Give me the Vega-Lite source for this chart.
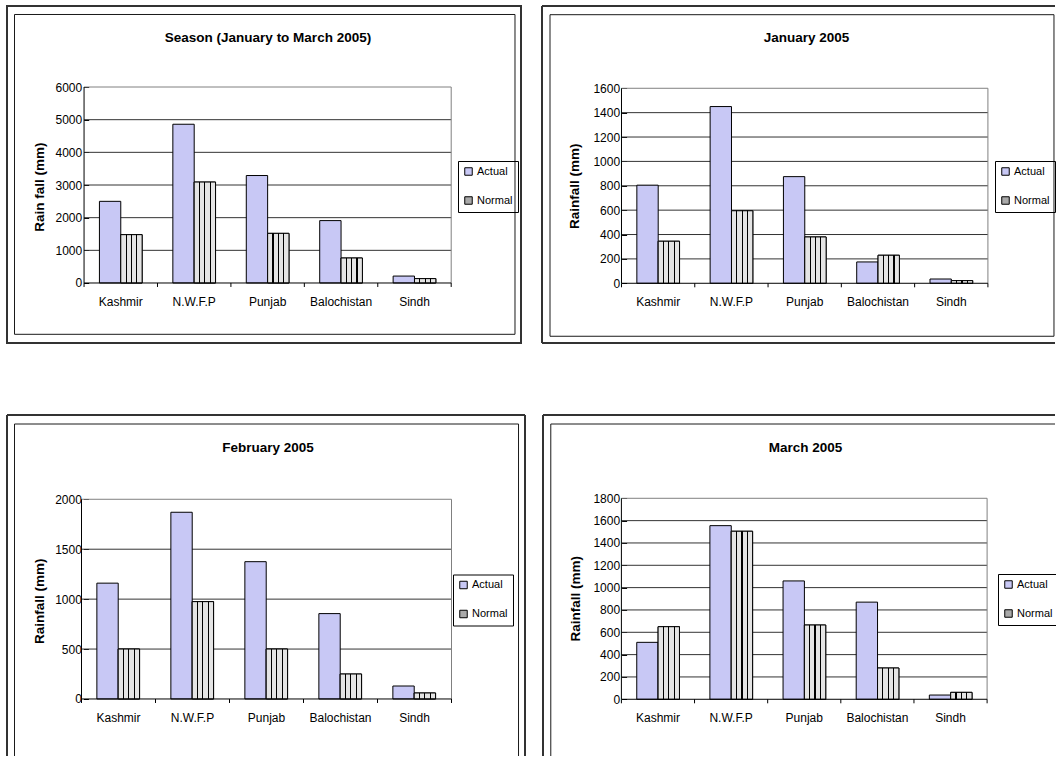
{
"$schema": "https://vega.github.io/schema/vega-lite/v6.json",
"padding": {"left": 6, "top": 5, "right": 0, "bottom": 0},
"background": "white",
"config": {
  "font": "Liberation Sans",
  "view": {"stroke": null},
  "axis": {"labelFont": "Liberation Sans", "labelFontSize": 12, "labelColor": "#000000", "tickColor": "#000000", "tickWidth": 1, "titleFont": "Liberation Sans", "titleFontSize": 13.5, "titleFontWeight": "bold", "titleColor": "#000000", "labelOverlap": false},
  "legend": {"labelFont": "Liberation Sans", "labelFontSize": 11, "labelColor": "#000000", "symbolType": "square", "symbolSize": 56, "symbolStrokeColor": "#000000", "symbolStrokeWidth": 1, "strokeColor": "#000000", "padding": 5, "rowPadding": 16, "labelOffset": 3},
  "title": {"font": "Liberation Sans", "fontSize": 13.5, "fontWeight": "bold", "color": "#000000"}
},
"spacing": 70,
"resolve": {"scale": {"color": "independent"}, "legend": {"color": "independent"}},
"vconcat": [
{
"spacing": 19,
"resolve": {"scale": {"color": "independent"}, "legend": {"color": "independent"}},
"hconcat": [
{
  "width": 514, "height": 337,
  "title": {"text": "Season (January to March 2005)", "offset": -50, "baseline": "alphabetic", "anchor": "middle", "frame": "group", "dx": 4},
  "resolve": {"scale": {"x": "independent", "y": "independent"}},
  "layer": [
    {"data": {"values": [{}]}, "layer": [
      {"mark": {"type": "rect", "filled": false, "stroke": "#333333", "strokeWidth": 2},
       "encoding": {"x": {"datum": 0, "type": "quantitative", "scale": {"domain": [0, 1], "nice": false, "zero": false}, "axis": null}, "x2": {"datum": 1},
                    "y": {"datum": 0, "type": "quantitative", "scale": {"domain": [0, 1], "nice": false, "zero": false, "reverse": true}, "axis": null}, "y2": {"datum": 1}}},
      {"mark": {"type": "rect", "filled": false, "stroke": "#1a1a1a", "strokeWidth": 1},
       "encoding": {"x": {"datum": 0.0146, "type": "quantitative", "scale": {"domain": [0, 1], "nice": false, "zero": false}, "axis": null}, "x2": {"datum": 0.9883},
                    "y": {"datum": 0.0252, "type": "quantitative", "scale": {"domain": [0, 1], "nice": false, "zero": false, "reverse": true}, "axis": null}, "y2": {"datum": 0.9742}}}
    ]},
    {"data": {"values": [
      {"region": "Kashmir", "series": "Actual", "value": 2500}, {"region": "Kashmir", "series": "Normal", "value": 1480},
      {"region": "N.W.F.P", "series": "Actual", "value": 4860}, {"region": "N.W.F.P", "series": "Normal", "value": 3090},
      {"region": "Punjab", "series": "Actual", "value": 3290}, {"region": "Punjab", "series": "Normal", "value": 1520},
      {"region": "Balochistan", "series": "Actual", "value": 1910}, {"region": "Balochistan", "series": "Normal", "value": 765},
      {"region": "Sindh", "series": "Actual", "value": 212}, {"region": "Sindh", "series": "Normal", "value": 134}
     ]},
     "layer": [
      {"data": {"values": [{"v": 1000}, {"v": 2000}, {"v": 3000}, {"v": 4000}, {"v": 5000}]},
       "mark": {"type": "rule", "color": "#333333", "strokeWidth": 1},
       "encoding": {"x": {"datum": "Kashmir", "type": "nominal", "bandPosition": 0, "scale": {"domain": ["Kashmir", "N.W.F.P", "Punjab", "Balochistan", "Sindh"], "paddingInner": 0, "paddingOuter": 1.0864, "align": 0.5247},
                          "axis": {"title": null, "orient": "bottom", "offset": -60, "domain": false, "grid": false, "ticks": false, "tickSize": 0, "labelPadding": 13, "labelAngle": 0, "bandPosition": 0.5, "labelOverlap": false}},
                    "x2": {"datum": "Sindh", "bandPosition": 1},
                    "y": {"field": "v", "type": "quantitative", "scale": {"domain": [-1837, 8480], "nice": false, "zero": false},
                          "axis": {"title": "Rain fall (mm)", "orient": "left", "offset": -81.7, "domain": false, "grid": false, "values": [0, 1000, 2000, 3000, 4000, 5000, 6000], "tickCount": 30, "format": "d", "labelOverlap": false, "tickSize": 5, "labelPadding": 2, "titleY": 180.7, "titlePadding": 9}}}},
      {"data": {"values": [{}]},
       "mark": {"type": "rule", "color": "#808080", "strokeWidth": 1},
       "encoding": {"x": {"datum": "Kashmir", "type": "nominal", "bandPosition": 0, "scale": {"domain": ["Kashmir", "N.W.F.P", "Punjab", "Balochistan", "Sindh"], "paddingInner": 0, "paddingOuter": 1.0864, "align": 0.5247}},
                    "x2": {"datum": "Sindh", "bandPosition": 1},
                    "y": {"datum": 6000, "type": "quantitative", "scale": {"domain": [-1837, 8480], "nice": false, "zero": false}}}},
      {"data": {"values": [{}]},
       "mark": {"type": "rule", "color": "#808080", "strokeWidth": 1},
       "encoding": {"x": {"datum": "Sindh", "type": "nominal", "bandPosition": 1, "scale": {"domain": ["Kashmir", "N.W.F.P", "Punjab", "Balochistan", "Sindh"], "paddingInner": 0, "paddingOuter": 1.0864, "align": 0.5247}},
                    "y": {"datum": 0, "type": "quantitative", "scale": {"domain": [-1837, 8480], "nice": false, "zero": false}}, "y2": {"datum": 6000}}},
      {"mark": {"type": "bar", "stroke": "#000000", "strokeWidth": 1},
       "encoding": {"x": {"field": "region", "type": "nominal", "scale": {"domain": ["Kashmir", "N.W.F.P", "Punjab", "Balochistan", "Sindh"], "paddingInner": 0, "paddingOuter": 1.0864, "align": 0.5247}},
                    "xOffset": {"field": "series", "type": "nominal", "scale": {"domain": ["Actual", "Normal"], "paddingInner": 0, "paddingOuter": 0.72}},
                    "y": {"field": "value", "type": "quantitative", "scale": {"domain": [-1837, 8480], "nice": false, "zero": false}},
                    "y2": {"datum": 0},
                    "color": {"field": "series", "type": "nominal", "scale": {"domain": ["Actual", "Normal"], "range": ["#c8c8f5", "#a9a9a9"]},
                              "legend": {"title": null, "orient": "none", "legendX": 451, "legendY": 155, "direction": "vertical"}}}},
      {"transform": [{"filter": "datum.series === 'Normal'"}],
       "mark": {"type": "bar", "stroke": "#000000", "strokeWidth": 1,
                "fill": {"gradient": "linear", "x1": 0, "y1": 0, "x2": 1, "y2": 0, "stops": [
                  {"offset": 0, "color": "#e4e4e4"}, {"offset": 0.222, "color": "#e4e4e4"}, {"offset": 0.222, "color": "#000000"}, {"offset": 0.278, "color": "#000000"},
                  {"offset": 0.278, "color": "#e4e4e4"}, {"offset": 0.472, "color": "#e4e4e4"}, {"offset": 0.472, "color": "#000000"}, {"offset": 0.528, "color": "#000000"},
                  {"offset": 0.528, "color": "#e4e4e4"}, {"offset": 0.722, "color": "#e4e4e4"}, {"offset": 0.722, "color": "#000000"}, {"offset": 0.778, "color": "#000000"},
                  {"offset": 0.778, "color": "#e4e4e4"}, {"offset": 1, "color": "#e4e4e4"}]}},
       "encoding": {"x": {"field": "region", "type": "nominal", "scale": {"domain": ["Kashmir", "N.W.F.P", "Punjab", "Balochistan", "Sindh"], "paddingInner": 0, "paddingOuter": 1.0864, "align": 0.5247}},
                    "xOffset": {"field": "series", "type": "nominal", "scale": {"domain": ["Actual", "Normal"], "paddingInner": 0, "paddingOuter": 0.72}},
                    "y": {"field": "value", "type": "quantitative", "scale": {"domain": [-1837, 8480], "nice": false, "zero": false}},
                    "y2": {"datum": 0}}},
      {"data": {"values": [{}]},
       "mark": {"type": "rule", "color": "#000000", "strokeWidth": 1},
       "encoding": {"x": {"datum": "Kashmir", "type": "nominal", "bandPosition": 0, "scale": {"domain": ["Kashmir", "N.W.F.P", "Punjab", "Balochistan", "Sindh"], "paddingInner": 0, "paddingOuter": 1.0864, "align": 0.5247}},
                    "y": {"datum": 0, "type": "quantitative", "scale": {"domain": [-1837, 8480], "nice": false, "zero": false}}, "y2": {"datum": 6000}}},
      {"data": {"values": [{}]},
       "mark": {"type": "rule", "color": "#000000", "strokeWidth": 1},
       "encoding": {"x": {"datum": "Kashmir", "type": "nominal", "bandPosition": 0, "scale": {"domain": ["Kashmir", "N.W.F.P", "Punjab", "Balochistan", "Sindh"], "paddingInner": 0, "paddingOuter": 1.0864, "align": 0.5247}},
                    "x2": {"datum": "Sindh", "bandPosition": 1},
                    "y": {"datum": 0, "type": "quantitative", "scale": {"domain": [-1837, 8480], "nice": false, "zero": false}}}},
      {"transform": [{"filter": "datum.series === 'Actual'"}],
       "mark": {"type": "rule", "color": "#000000", "strokeWidth": 1},
       "encoding": {"x": {"field": "region", "type": "nominal", "bandPosition": 0, "scale": {"domain": ["Kashmir", "N.W.F.P", "Punjab", "Balochistan", "Sindh"], "paddingInner": 0, "paddingOuter": 1.0864, "align": 0.5247}},
                    "y": {"datum": 0, "type": "quantitative", "scale": {"domain": [-1837, 8480], "nice": false, "zero": false}}, "y2": {"datum": -122}}},
      {"data": {"values": [{}]},
       "mark": {"type": "rule", "color": "#000000", "strokeWidth": 1},
       "encoding": {"x": {"datum": "Sindh", "type": "nominal", "bandPosition": 1, "scale": {"domain": ["Kashmir", "N.W.F.P", "Punjab", "Balochistan", "Sindh"], "paddingInner": 0, "paddingOuter": 1.0864, "align": 0.5247}},
                    "y": {"datum": 0, "type": "quantitative", "scale": {"domain": [-1837, 8480], "nice": false, "zero": false}}, "y2": {"datum": -122}}}
     ]}
  ]
},
{
  "width": 513, "height": 337,
  "title": {"text": "January 2005", "offset": -50, "baseline": "alphabetic", "anchor": "middle", "frame": "group", "dx": 8},
  "resolve": {"scale": {"x": "independent", "y": "independent"}},
  "layer": [
    {"data": {"values": [{}]}, "layer": [
      {"mark": {"type": "rule", "color": "#333333", "strokeWidth": 2},
       "encoding": {"x": {"datum": 0, "type": "quantitative", "scale": {"domain": [0, 1], "nice": false, "zero": false}, "axis": null}, "x2": {"datum": 1},
                    "y": {"datum": 0, "type": "quantitative", "scale": {"domain": [0, 1], "nice": false, "zero": false, "reverse": true}, "axis": null}}},
      {"mark": {"type": "rule", "color": "#333333", "strokeWidth": 2},
       "encoding": {"x": {"datum": 0, "type": "quantitative", "scale": {"domain": [0, 1], "nice": false, "zero": false}, "axis": null},
                    "y": {"datum": 0, "type": "quantitative", "scale": {"domain": [0, 1], "nice": false, "zero": false, "reverse": true}, "axis": null}, "y2": {"datum": 1}}},
      {"mark": {"type": "rule", "color": "#333333", "strokeWidth": 2},
       "encoding": {"x": {"datum": 0, "type": "quantitative", "scale": {"domain": [0, 1], "nice": false, "zero": false}, "axis": null}, "x2": {"datum": 1},
                    "y": {"datum": 1, "type": "quantitative", "scale": {"domain": [0, 1], "nice": false, "zero": false, "reverse": true}, "axis": null}}},
      {"mark": {"type": "rect", "filled": false, "stroke": "#1a1a1a", "strokeWidth": 1},
       "encoding": {"x": {"datum": 0.0156, "type": "quantitative", "scale": {"domain": [0, 1], "nice": false, "zero": false}, "axis": null}, "x2": {"datum": 0.998},
                    "y": {"datum": 0.0258, "type": "quantitative", "scale": {"domain": [0, 1], "nice": false, "zero": false, "reverse": true}, "axis": null}, "y2": {"datum": 0.98}}}
    ]},
    {"data": {"values": [
      {"region": "Kashmir", "series": "Actual", "value": 805}, {"region": "Kashmir", "series": "Normal", "value": 345},
      {"region": "N.W.F.P", "series": "Actual", "value": 1450}, {"region": "N.W.F.P", "series": "Normal", "value": 595},
      {"region": "Punjab", "series": "Actual", "value": 875}, {"region": "Punjab", "series": "Normal", "value": 380},
      {"region": "Balochistan", "series": "Actual", "value": 175}, {"region": "Balochistan", "series": "Normal", "value": 230},
      {"region": "Sindh", "series": "Actual", "value": 35}, {"region": "Sindh", "series": "Normal", "value": 22}
     ]},
     "layer": [
      {"data": {"values": [{"v": 200}, {"v": 400}, {"v": 600}, {"v": 800}, {"v": 1000}, {"v": 1200}, {"v": 1400}]},
       "mark": {"type": "rule", "color": "#333333", "strokeWidth": 1},
       "encoding": {"x": {"datum": "Kashmir", "type": "nominal", "bandPosition": 0, "scale": {"domain": ["Kashmir", "N.W.F.P", "Punjab", "Balochistan", "Sindh"], "paddingInner": 0, "paddingOuter": 1.0924, "align": 0.5423},
                          "axis": {"title": null, "orient": "bottom", "offset": -59.7, "domain": false, "grid": false, "ticks": false, "tickSize": 0, "labelPadding": 13, "labelAngle": 0, "bandPosition": 0.5, "labelOverlap": false}},
                    "x2": {"datum": "Sindh", "bandPosition": 1},
                    "y": {"field": "v", "type": "quantitative", "scale": {"domain": [-490, 2275], "nice": false, "zero": false},
                          "axis": {"title": "Rainfall (mm)", "orient": "left", "offset": -84.6, "domain": false, "grid": false, "values": [0, 200, 400, 600, 800, 1000, 1200, 1400, 1600], "tickCount": 30, "format": "d", "labelOverlap": false, "tickSize": 5, "labelPadding": 2, "titleY": 179.8, "titlePadding": 11}}}},
      {"data": {"values": [{}]},
       "mark": {"type": "rule", "color": "#808080", "strokeWidth": 1},
       "encoding": {"x": {"datum": "Kashmir", "type": "nominal", "bandPosition": 0, "scale": {"domain": ["Kashmir", "N.W.F.P", "Punjab", "Balochistan", "Sindh"], "paddingInner": 0, "paddingOuter": 1.0924, "align": 0.5423}},
                    "x2": {"datum": "Sindh", "bandPosition": 1},
                    "y": {"datum": 1600, "type": "quantitative", "scale": {"domain": [-490, 2275], "nice": false, "zero": false}}}},
      {"data": {"values": [{}]},
       "mark": {"type": "rule", "color": "#808080", "strokeWidth": 1},
       "encoding": {"x": {"datum": "Sindh", "type": "nominal", "bandPosition": 1, "scale": {"domain": ["Kashmir", "N.W.F.P", "Punjab", "Balochistan", "Sindh"], "paddingInner": 0, "paddingOuter": 1.0924, "align": 0.5423}},
                    "y": {"datum": 0, "type": "quantitative", "scale": {"domain": [-490, 2275], "nice": false, "zero": false}}, "y2": {"datum": 1600}}},
      {"mark": {"type": "bar", "stroke": "#000000", "strokeWidth": 1},
       "encoding": {"x": {"field": "region", "type": "nominal", "scale": {"domain": ["Kashmir", "N.W.F.P", "Punjab", "Balochistan", "Sindh"], "paddingInner": 0, "paddingOuter": 1.0924, "align": 0.5423}},
                    "xOffset": {"field": "series", "type": "nominal", "scale": {"domain": ["Actual", "Normal"], "paddingInner": 0, "paddingOuter": 0.72}},
                    "y": {"field": "value", "type": "quantitative", "scale": {"domain": [-490, 2275], "nice": false, "zero": false}},
                    "y2": {"datum": 0},
                    "color": {"field": "series", "type": "nominal", "scale": {"domain": ["Actual", "Normal"], "range": ["#c8c8f5", "#a9a9a9"]},
                              "legend": {"title": null, "orient": "none", "legendX": 453, "legendY": 155, "direction": "vertical"}}}},
      {"transform": [{"filter": "datum.series === 'Normal'"}],
       "mark": {"type": "bar", "stroke": "#000000", "strokeWidth": 1,
                "fill": {"gradient": "linear", "x1": 0, "y1": 0, "x2": 1, "y2": 0, "stops": [
                  {"offset": 0, "color": "#e4e4e4"}, {"offset": 0.222, "color": "#e4e4e4"}, {"offset": 0.222, "color": "#000000"}, {"offset": 0.278, "color": "#000000"},
                  {"offset": 0.278, "color": "#e4e4e4"}, {"offset": 0.472, "color": "#e4e4e4"}, {"offset": 0.472, "color": "#000000"}, {"offset": 0.528, "color": "#000000"},
                  {"offset": 0.528, "color": "#e4e4e4"}, {"offset": 0.722, "color": "#e4e4e4"}, {"offset": 0.722, "color": "#000000"}, {"offset": 0.778, "color": "#000000"},
                  {"offset": 0.778, "color": "#e4e4e4"}, {"offset": 1, "color": "#e4e4e4"}]}},
       "encoding": {"x": {"field": "region", "type": "nominal", "scale": {"domain": ["Kashmir", "N.W.F.P", "Punjab", "Balochistan", "Sindh"], "paddingInner": 0, "paddingOuter": 1.0924, "align": 0.5423}},
                    "xOffset": {"field": "series", "type": "nominal", "scale": {"domain": ["Actual", "Normal"], "paddingInner": 0, "paddingOuter": 0.72}},
                    "y": {"field": "value", "type": "quantitative", "scale": {"domain": [-490, 2275], "nice": false, "zero": false}},
                    "y2": {"datum": 0}}},
      {"data": {"values": [{}]},
       "mark": {"type": "rule", "color": "#000000", "strokeWidth": 1},
       "encoding": {"x": {"datum": "Kashmir", "type": "nominal", "bandPosition": 0, "scale": {"domain": ["Kashmir", "N.W.F.P", "Punjab", "Balochistan", "Sindh"], "paddingInner": 0, "paddingOuter": 1.0924, "align": 0.5423}},
                    "y": {"datum": 0, "type": "quantitative", "scale": {"domain": [-490, 2275], "nice": false, "zero": false}}, "y2": {"datum": 1600}}},
      {"data": {"values": [{}]},
       "mark": {"type": "rule", "color": "#000000", "strokeWidth": 1},
       "encoding": {"x": {"datum": "Kashmir", "type": "nominal", "bandPosition": 0, "scale": {"domain": ["Kashmir", "N.W.F.P", "Punjab", "Balochistan", "Sindh"], "paddingInner": 0, "paddingOuter": 1.0924, "align": 0.5423}},
                    "x2": {"datum": "Sindh", "bandPosition": 1},
                    "y": {"datum": 0, "type": "quantitative", "scale": {"domain": [-490, 2275], "nice": false, "zero": false}}}},
      {"transform": [{"filter": "datum.series === 'Actual'"}],
       "mark": {"type": "rule", "color": "#000000", "strokeWidth": 1},
       "encoding": {"x": {"field": "region", "type": "nominal", "bandPosition": 0, "scale": {"domain": ["Kashmir", "N.W.F.P", "Punjab", "Balochistan", "Sindh"], "paddingInner": 0, "paddingOuter": 1.0924, "align": 0.5423}},
                    "y": {"datum": 0, "type": "quantitative", "scale": {"domain": [-490, 2275], "nice": false, "zero": false}}, "y2": {"datum": -33}}},
      {"data": {"values": [{}]},
       "mark": {"type": "rule", "color": "#000000", "strokeWidth": 1},
       "encoding": {"x": {"datum": "Sindh", "type": "nominal", "bandPosition": 1, "scale": {"domain": ["Kashmir", "N.W.F.P", "Punjab", "Balochistan", "Sindh"], "paddingInner": 0, "paddingOuter": 1.0924, "align": 0.5423}},
                    "y": {"datum": 0, "type": "quantitative", "scale": {"domain": [-490, 2275], "nice": false, "zero": false}}, "y2": {"datum": -33}}}
     ]}
  ]
}
]
},
{
"spacing": 16,
"resolve": {"scale": {"color": "independent"}, "legend": {"color": "independent"}},
"hconcat": [
{
  "width": 518, "height": 341,
  "title": {"text": "February 2005", "offset": -51.7, "baseline": "alphabetic", "anchor": "middle", "frame": "group", "dx": 2},
  "resolve": {"scale": {"x": "independent", "y": "independent"}},
  "layer": [
    {"data": {"values": [{}]}, "layer": [
      {"mark": {"type": "rule", "color": "#333333", "strokeWidth": 2},
       "encoding": {"x": {"datum": 0, "type": "quantitative", "scale": {"domain": [0, 1], "nice": false, "zero": false}, "axis": null}, "x2": {"datum": 1},
                    "y": {"datum": 0, "type": "quantitative", "scale": {"domain": [0, 1], "nice": false, "zero": false, "reverse": true}, "axis": null}}},
      {"mark": {"type": "rule", "color": "#333333", "strokeWidth": 2},
       "encoding": {"x": {"datum": 0, "type": "quantitative", "scale": {"domain": [0, 1], "nice": false, "zero": false}, "axis": null},
                    "y": {"datum": 0, "type": "quantitative", "scale": {"domain": [0, 1], "nice": false, "zero": false, "reverse": true}, "axis": null}, "y2": {"datum": 1}}},
      {"mark": {"type": "rule", "color": "#333333", "strokeWidth": 2},
       "encoding": {"x": {"datum": 1, "type": "quantitative", "scale": {"domain": [0, 1], "nice": false, "zero": false}, "axis": null},
                    "y": {"datum": 0, "type": "quantitative", "scale": {"domain": [0, 1], "nice": false, "zero": false, "reverse": true}, "axis": null}, "y2": {"datum": 1}}},
      {"mark": {"type": "rule", "color": "#1a1a1a", "strokeWidth": 1},
       "encoding": {"x": {"datum": 0.0145, "type": "quantitative", "scale": {"domain": [0, 1], "nice": false, "zero": false}, "axis": null}, "x2": {"datum": 0.9875},
                    "y": {"datum": 0.0264, "type": "quantitative", "scale": {"domain": [0, 1], "nice": false, "zero": false, "reverse": true}, "axis": null}}},
      {"mark": {"type": "rule", "color": "#1a1a1a", "strokeWidth": 1},
       "encoding": {"x": {"datum": 0.0145, "type": "quantitative", "scale": {"domain": [0, 1], "nice": false, "zero": false}, "axis": null},
                    "y": {"datum": 0.0264, "type": "quantitative", "scale": {"domain": [0, 1], "nice": false, "zero": false, "reverse": true}, "axis": null}, "y2": {"datum": 1}}},
      {"mark": {"type": "rule", "color": "#1a1a1a", "strokeWidth": 1},
       "encoding": {"x": {"datum": 0.9875, "type": "quantitative", "scale": {"domain": [0, 1], "nice": false, "zero": false}, "axis": null},
                    "y": {"datum": 0.0264, "type": "quantitative", "scale": {"domain": [0, 1], "nice": false, "zero": false, "reverse": true}, "axis": null}, "y2": {"datum": 1}}}
    ]},
    {"data": {"values": [
      {"region": "Kashmir", "series": "Actual", "value": 1160}, {"region": "Kashmir", "series": "Normal", "value": 500},
      {"region": "N.W.F.P", "series": "Actual", "value": 1870}, {"region": "N.W.F.P", "series": "Normal", "value": 975},
      {"region": "Punjab", "series": "Actual", "value": 1375}, {"region": "Punjab", "series": "Normal", "value": 500},
      {"region": "Balochistan", "series": "Actual", "value": 855}, {"region": "Balochistan", "series": "Normal", "value": 250},
      {"region": "Sindh", "series": "Actual", "value": 130}, {"region": "Sindh", "series": "Normal", "value": 60}
     ]},
     "layer": [
      {"data": {"values": [{"v": 500}, {"v": 1000}, {"v": 1500}]},
       "mark": {"type": "rule", "color": "#333333", "strokeWidth": 1},
       "encoding": {"x": {"datum": "Kashmir", "type": "nominal", "bandPosition": 0, "scale": {"domain": ["Kashmir", "N.W.F.P", "Punjab", "Balochistan", "Sindh"], "paddingInner": 0, "paddingOuter": 1.1346, "align": 0.5034},
                          "axis": {"title": null, "orient": "bottom", "offset": -57, "domain": false, "grid": false, "ticks": false, "tickSize": 0, "labelPadding": 13, "labelAngle": 0, "bandPosition": 0.5, "labelOverlap": false}},
                    "x2": {"datum": "Sindh", "bandPosition": 1},
                    "y": {"field": "v", "type": "quantitative", "scale": {"domain": [-571, 2844], "nice": false, "zero": false},
                          "axis": {"title": "Rainfall (mm)", "orient": "left", "offset": -81.4, "domain": false, "grid": false, "values": [0, 500, 1000, 1500, 2000], "tickCount": 30, "format": "d", "labelOverlap": false, "tickSize": 5, "labelPadding": 2, "titleY": 185.8, "titlePadding": 8}}}},
      {"data": {"values": [{}]},
       "mark": {"type": "rule", "color": "#808080", "strokeWidth": 1},
       "encoding": {"x": {"datum": "Kashmir", "type": "nominal", "bandPosition": 0, "scale": {"domain": ["Kashmir", "N.W.F.P", "Punjab", "Balochistan", "Sindh"], "paddingInner": 0, "paddingOuter": 1.1346, "align": 0.5034}},
                    "x2": {"datum": "Sindh", "bandPosition": 1},
                    "y": {"datum": 2000, "type": "quantitative", "scale": {"domain": [-571, 2844], "nice": false, "zero": false}}}},
      {"data": {"values": [{}]},
       "mark": {"type": "rule", "color": "#808080", "strokeWidth": 1},
       "encoding": {"x": {"datum": "Sindh", "type": "nominal", "bandPosition": 1, "scale": {"domain": ["Kashmir", "N.W.F.P", "Punjab", "Balochistan", "Sindh"], "paddingInner": 0, "paddingOuter": 1.1346, "align": 0.5034}},
                    "y": {"datum": 0, "type": "quantitative", "scale": {"domain": [-571, 2844], "nice": false, "zero": false}}, "y2": {"datum": 2000}}},
      {"mark": {"type": "bar", "stroke": "#000000", "strokeWidth": 1},
       "encoding": {"x": {"field": "region", "type": "nominal", "scale": {"domain": ["Kashmir", "N.W.F.P", "Punjab", "Balochistan", "Sindh"], "paddingInner": 0, "paddingOuter": 1.1346, "align": 0.5034}},
                    "xOffset": {"field": "series", "type": "nominal", "scale": {"domain": ["Actual", "Normal"], "paddingInner": 0, "paddingOuter": 0.72}},
                    "y": {"field": "value", "type": "quantitative", "scale": {"domain": [-571, 2844], "nice": false, "zero": false}},
                    "y2": {"datum": 0},
                    "color": {"field": "series", "type": "nominal", "scale": {"domain": ["Actual", "Normal"], "range": ["#c8c8f5", "#a9a9a9"]},
                              "legend": {"title": null, "orient": "none", "legendX": 446, "legendY": 159.5, "direction": "vertical"}}}},
      {"transform": [{"filter": "datum.series === 'Normal'"}],
       "mark": {"type": "bar", "stroke": "#000000", "strokeWidth": 1,
                "fill": {"gradient": "linear", "x1": 0, "y1": 0, "x2": 1, "y2": 0, "stops": [
                  {"offset": 0, "color": "#e4e4e4"}, {"offset": 0.222, "color": "#e4e4e4"}, {"offset": 0.222, "color": "#000000"}, {"offset": 0.278, "color": "#000000"},
                  {"offset": 0.278, "color": "#e4e4e4"}, {"offset": 0.472, "color": "#e4e4e4"}, {"offset": 0.472, "color": "#000000"}, {"offset": 0.528, "color": "#000000"},
                  {"offset": 0.528, "color": "#e4e4e4"}, {"offset": 0.722, "color": "#e4e4e4"}, {"offset": 0.722, "color": "#000000"}, {"offset": 0.778, "color": "#000000"},
                  {"offset": 0.778, "color": "#e4e4e4"}, {"offset": 1, "color": "#e4e4e4"}]}},
       "encoding": {"x": {"field": "region", "type": "nominal", "scale": {"domain": ["Kashmir", "N.W.F.P", "Punjab", "Balochistan", "Sindh"], "paddingInner": 0, "paddingOuter": 1.1346, "align": 0.5034}},
                    "xOffset": {"field": "series", "type": "nominal", "scale": {"domain": ["Actual", "Normal"], "paddingInner": 0, "paddingOuter": 0.72}},
                    "y": {"field": "value", "type": "quantitative", "scale": {"domain": [-571, 2844], "nice": false, "zero": false}},
                    "y2": {"datum": 0}}},
      {"data": {"values": [{}]},
       "mark": {"type": "rule", "color": "#000000", "strokeWidth": 1},
       "encoding": {"x": {"datum": "Kashmir", "type": "nominal", "bandPosition": 0, "scale": {"domain": ["Kashmir", "N.W.F.P", "Punjab", "Balochistan", "Sindh"], "paddingInner": 0, "paddingOuter": 1.1346, "align": 0.5034}},
                    "y": {"datum": 0, "type": "quantitative", "scale": {"domain": [-571, 2844], "nice": false, "zero": false}}, "y2": {"datum": 2000}}},
      {"data": {"values": [{}]},
       "mark": {"type": "rule", "color": "#000000", "strokeWidth": 1},
       "encoding": {"x": {"datum": "Kashmir", "type": "nominal", "bandPosition": 0, "scale": {"domain": ["Kashmir", "N.W.F.P", "Punjab", "Balochistan", "Sindh"], "paddingInner": 0, "paddingOuter": 1.1346, "align": 0.5034}},
                    "x2": {"datum": "Sindh", "bandPosition": 1},
                    "y": {"datum": 0, "type": "quantitative", "scale": {"domain": [-571, 2844], "nice": false, "zero": false}}}},
      {"transform": [{"filter": "datum.series === 'Actual'"}],
       "mark": {"type": "rule", "color": "#000000", "strokeWidth": 1},
       "encoding": {"x": {"field": "region", "type": "nominal", "bandPosition": 0, "scale": {"domain": ["Kashmir", "N.W.F.P", "Punjab", "Balochistan", "Sindh"], "paddingInner": 0, "paddingOuter": 1.1346, "align": 0.5034}},
                    "y": {"datum": 0, "type": "quantitative", "scale": {"domain": [-571, 2844], "nice": false, "zero": false}}, "y2": {"datum": -40}}},
      {"data": {"values": [{}]},
       "mark": {"type": "rule", "color": "#000000", "strokeWidth": 1},
       "encoding": {"x": {"datum": "Sindh", "type": "nominal", "bandPosition": 1, "scale": {"domain": ["Kashmir", "N.W.F.P", "Punjab", "Balochistan", "Sindh"], "paddingInner": 0, "paddingOuter": 1.1346, "align": 0.5034}},
                    "y": {"datum": 0, "type": "quantitative", "scale": {"domain": [-571, 2844], "nice": false, "zero": false}}, "y2": {"datum": -40}}}
     ]}
  ]
},
{
  "width": 512, "height": 341,
  "title": {"text": "March 2005", "offset": -51.7, "baseline": "alphabetic", "anchor": "middle", "frame": "group", "dx": 6.6},
  "resolve": {"scale": {"x": "independent", "y": "independent"}},
  "layer": [
    {"data": {"values": [{}]}, "layer": [
      {"mark": {"type": "rule", "color": "#333333", "strokeWidth": 2},
       "encoding": {"x": {"datum": 0, "type": "quantitative", "scale": {"domain": [0, 1], "nice": false, "zero": false}, "axis": null}, "x2": {"datum": 1},
                    "y": {"datum": 0, "type": "quantitative", "scale": {"domain": [0, 1], "nice": false, "zero": false, "reverse": true}, "axis": null}}},
      {"mark": {"type": "rule", "color": "#333333", "strokeWidth": 2},
       "encoding": {"x": {"datum": 0, "type": "quantitative", "scale": {"domain": [0, 1], "nice": false, "zero": false}, "axis": null},
                    "y": {"datum": 0, "type": "quantitative", "scale": {"domain": [0, 1], "nice": false, "zero": false, "reverse": true}, "axis": null}, "y2": {"datum": 1}}},
      {"mark": {"type": "rule", "color": "#1a1a1a", "strokeWidth": 1},
       "encoding": {"x": {"datum": 0.0152, "type": "quantitative", "scale": {"domain": [0, 1], "nice": false, "zero": false}, "axis": null}, "x2": {"datum": 1},
                    "y": {"datum": 0.0264, "type": "quantitative", "scale": {"domain": [0, 1], "nice": false, "zero": false, "reverse": true}, "axis": null}}},
      {"mark": {"type": "rule", "color": "#1a1a1a", "strokeWidth": 1},
       "encoding": {"x": {"datum": 0.0152, "type": "quantitative", "scale": {"domain": [0, 1], "nice": false, "zero": false}, "axis": null},
                    "y": {"datum": 0.0264, "type": "quantitative", "scale": {"domain": [0, 1], "nice": false, "zero": false, "reverse": true}, "axis": null}, "y2": {"datum": 1}}}
    ]},
    {"data": {"values": [
      {"region": "Kashmir", "series": "Actual", "value": 510}, {"region": "Kashmir", "series": "Normal", "value": 650},
      {"region": "N.W.F.P", "series": "Actual", "value": 1555}, {"region": "N.W.F.P", "series": "Normal", "value": 1505},
      {"region": "Punjab", "series": "Actual", "value": 1060}, {"region": "Punjab", "series": "Normal", "value": 665},
      {"region": "Balochistan", "series": "Actual", "value": 870}, {"region": "Balochistan", "series": "Normal", "value": 280},
      {"region": "Sindh", "series": "Actual", "value": 38}, {"region": "Sindh", "series": "Normal", "value": 62}
     ]},
     "layer": [
      {"data": {"values": [{"v": 200}, {"v": 400}, {"v": 600}, {"v": 800}, {"v": 1000}, {"v": 1200}, {"v": 1400}, {"v": 1600}]},
       "mark": {"type": "rule", "color": "#333333", "strokeWidth": 1},
       "encoding": {"x": {"datum": "Kashmir", "type": "nominal", "bandPosition": 0, "scale": {"domain": ["Kashmir", "N.W.F.P", "Punjab", "Balochistan", "Sindh"], "paddingInner": 0, "paddingOuter": 1.0955, "align": 0.5359},
                          "axis": {"title": null, "orient": "bottom", "offset": -56.7, "domain": false, "grid": false, "ticks": false, "tickSize": 0, "labelPadding": 13, "labelAngle": 0, "bandPosition": 0.5, "labelOverlap": false}},
                    "x2": {"datum": "Sindh", "bandPosition": 1},
                    "y": {"field": "v", "type": "quantitative", "scale": {"domain": [-508, 2546], "nice": false, "zero": false},
                          "axis": {"title": "Rainfall (mm)", "orient": "left", "offset": -83.6, "domain": false, "grid": false, "values": [0, 200, 400, 600, 800, 1000, 1200, 1400, 1600, 1800], "tickCount": 30, "format": "d", "labelOverlap": false, "tickSize": 5, "labelPadding": 2, "titleY": 183.3, "titlePadding": 10}}}},
      {"data": {"values": [{}]},
       "mark": {"type": "rule", "color": "#808080", "strokeWidth": 1},
       "encoding": {"x": {"datum": "Kashmir", "type": "nominal", "bandPosition": 0, "scale": {"domain": ["Kashmir", "N.W.F.P", "Punjab", "Balochistan", "Sindh"], "paddingInner": 0, "paddingOuter": 1.0955, "align": 0.5359}},
                    "x2": {"datum": "Sindh", "bandPosition": 1},
                    "y": {"datum": 1800, "type": "quantitative", "scale": {"domain": [-508, 2546], "nice": false, "zero": false}}}},
      {"data": {"values": [{}]},
       "mark": {"type": "rule", "color": "#808080", "strokeWidth": 1},
       "encoding": {"x": {"datum": "Sindh", "type": "nominal", "bandPosition": 1, "scale": {"domain": ["Kashmir", "N.W.F.P", "Punjab", "Balochistan", "Sindh"], "paddingInner": 0, "paddingOuter": 1.0955, "align": 0.5359}},
                    "y": {"datum": 0, "type": "quantitative", "scale": {"domain": [-508, 2546], "nice": false, "zero": false}}, "y2": {"datum": 1800}}},
      {"mark": {"type": "bar", "stroke": "#000000", "strokeWidth": 1},
       "encoding": {"x": {"field": "region", "type": "nominal", "scale": {"domain": ["Kashmir", "N.W.F.P", "Punjab", "Balochistan", "Sindh"], "paddingInner": 0, "paddingOuter": 1.0955, "align": 0.5359}},
                    "xOffset": {"field": "series", "type": "nominal", "scale": {"domain": ["Actual", "Normal"], "paddingInner": 0, "paddingOuter": 0.72}},
                    "y": {"field": "value", "type": "quantitative", "scale": {"domain": [-508, 2546], "nice": false, "zero": false}},
                    "y2": {"datum": 0},
                    "color": {"field": "series", "type": "nominal", "scale": {"domain": ["Actual", "Normal"], "range": ["#c8c8f5", "#a9a9a9"]},
                              "legend": {"title": null, "orient": "none", "legendX": 455, "legendY": 159, "direction": "vertical"}}}},
      {"transform": [{"filter": "datum.series === 'Normal'"}],
       "mark": {"type": "bar", "stroke": "#000000", "strokeWidth": 1,
                "fill": {"gradient": "linear", "x1": 0, "y1": 0, "x2": 1, "y2": 0, "stops": [
                  {"offset": 0, "color": "#e4e4e4"}, {"offset": 0.222, "color": "#e4e4e4"}, {"offset": 0.222, "color": "#000000"}, {"offset": 0.278, "color": "#000000"},
                  {"offset": 0.278, "color": "#e4e4e4"}, {"offset": 0.472, "color": "#e4e4e4"}, {"offset": 0.472, "color": "#000000"}, {"offset": 0.528, "color": "#000000"},
                  {"offset": 0.528, "color": "#e4e4e4"}, {"offset": 0.722, "color": "#e4e4e4"}, {"offset": 0.722, "color": "#000000"}, {"offset": 0.778, "color": "#000000"},
                  {"offset": 0.778, "color": "#e4e4e4"}, {"offset": 1, "color": "#e4e4e4"}]}},
       "encoding": {"x": {"field": "region", "type": "nominal", "scale": {"domain": ["Kashmir", "N.W.F.P", "Punjab", "Balochistan", "Sindh"], "paddingInner": 0, "paddingOuter": 1.0955, "align": 0.5359}},
                    "xOffset": {"field": "series", "type": "nominal", "scale": {"domain": ["Actual", "Normal"], "paddingInner": 0, "paddingOuter": 0.72}},
                    "y": {"field": "value", "type": "quantitative", "scale": {"domain": [-508, 2546], "nice": false, "zero": false}},
                    "y2": {"datum": 0}}},
      {"data": {"values": [{}]},
       "mark": {"type": "rule", "color": "#000000", "strokeWidth": 1},
       "encoding": {"x": {"datum": "Kashmir", "type": "nominal", "bandPosition": 0, "scale": {"domain": ["Kashmir", "N.W.F.P", "Punjab", "Balochistan", "Sindh"], "paddingInner": 0, "paddingOuter": 1.0955, "align": 0.5359}},
                    "y": {"datum": 0, "type": "quantitative", "scale": {"domain": [-508, 2546], "nice": false, "zero": false}}, "y2": {"datum": 1800}}},
      {"data": {"values": [{}]},
       "mark": {"type": "rule", "color": "#000000", "strokeWidth": 1},
       "encoding": {"x": {"datum": "Kashmir", "type": "nominal", "bandPosition": 0, "scale": {"domain": ["Kashmir", "N.W.F.P", "Punjab", "Balochistan", "Sindh"], "paddingInner": 0, "paddingOuter": 1.0955, "align": 0.5359}},
                    "x2": {"datum": "Sindh", "bandPosition": 1},
                    "y": {"datum": 0, "type": "quantitative", "scale": {"domain": [-508, 2546], "nice": false, "zero": false}}}},
      {"transform": [{"filter": "datum.series === 'Actual'"}],
       "mark": {"type": "rule", "color": "#000000", "strokeWidth": 1},
       "encoding": {"x": {"field": "region", "type": "nominal", "bandPosition": 0, "scale": {"domain": ["Kashmir", "N.W.F.P", "Punjab", "Balochistan", "Sindh"], "paddingInner": 0, "paddingOuter": 1.0955, "align": 0.5359}},
                    "y": {"datum": 0, "type": "quantitative", "scale": {"domain": [-508, 2546], "nice": false, "zero": false}}, "y2": {"datum": -36}}},
      {"data": {"values": [{}]},
       "mark": {"type": "rule", "color": "#000000", "strokeWidth": 1},
       "encoding": {"x": {"datum": "Sindh", "type": "nominal", "bandPosition": 1, "scale": {"domain": ["Kashmir", "N.W.F.P", "Punjab", "Balochistan", "Sindh"], "paddingInner": 0, "paddingOuter": 1.0955, "align": 0.5359}},
                    "y": {"datum": 0, "type": "quantitative", "scale": {"domain": [-508, 2546], "nice": false, "zero": false}}, "y2": {"datum": -36}}}
     ]}
  ]
}
]
}
]
}
